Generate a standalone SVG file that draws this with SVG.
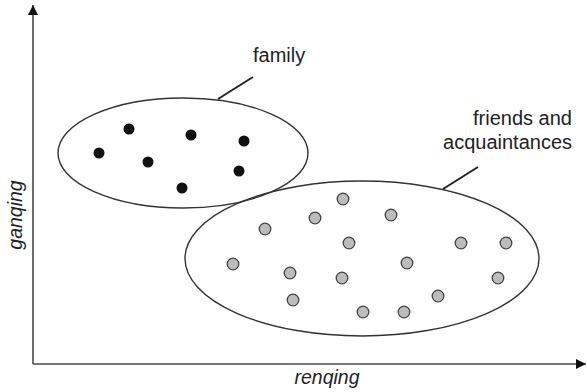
<svg xmlns="http://www.w3.org/2000/svg" width="587" height="392" viewBox="0 0 587 392">
  <style>
    .axis { stroke: #4a4a4a; stroke-width: 1.6; fill: none; }
    .set { stroke: #333; stroke-width: 1.4; fill: none; }
    .lead { stroke: #222; stroke-width: 2; fill: none; }
    .fam { fill: #111; }
    .fr { fill: #bcbcbc; stroke: #444; stroke-width: 1.3; }
    .lbl { font-family: "Liberation Sans", Arial, sans-serif; font-size: 20px; fill: #222; }
    .ax { font-family: "Liberation Sans", Arial, sans-serif; font-size: 19.5px; font-style: italic; fill: #222; }
  </style>
  <defs>
    <marker id="arrow" viewBox="0 0 10 10" refX="10" refY="5" markerWidth="10" markerHeight="10" markerUnits="userSpaceOnUse" orient="auto">
      <path d="M0,0 L10,5 L0,10 Z" fill="#111"/>
    </marker>
  </defs>

  <!-- axes -->
  <g id="axes">
    <path class="axis" d="M33,364 L33,5" marker-end="url(#arrow)"/>
    <path class="axis" d="M33,364 L586,364" marker-end="url(#arrow)"/>
    <text class="ax" x="327" y="384" text-anchor="middle">renqing</text>
    <text class="ax" transform="translate(22,215) rotate(-90)" text-anchor="middle">ganqing</text>
  </g>

  <!-- family set -->
  <g id="family">
    <ellipse class="set" cx="183" cy="153" rx="125" ry="55"/>
    <circle class="fam" cx="99" cy="153" r="5.5"/>
    <circle class="fam" cx="129" cy="129" r="5.5"/>
    <circle class="fam" cx="148" cy="162" r="5.5"/>
    <circle class="fam" cx="191" cy="135" r="5.5"/>
    <circle class="fam" cx="244" cy="141" r="5.5"/>
    <circle class="fam" cx="239" cy="171" r="5.5"/>
    <circle class="fam" cx="182" cy="188" r="5.5"/>
  </g>

  <!-- friends and acquaintances set -->
  <g id="friends">
    <ellipse class="set" cx="362" cy="258.5" rx="177" ry="77.5"/>
    <circle class="fr" cx="343" cy="199" r="5.8"/>
    <circle class="fr" cx="315" cy="218" r="5.8"/>
    <circle class="fr" cx="391" cy="215" r="5.8"/>
    <circle class="fr" cx="265" cy="229" r="5.8"/>
    <circle class="fr" cx="349" cy="243" r="5.8"/>
    <circle class="fr" cx="461" cy="243" r="5.8"/>
    <circle class="fr" cx="506" cy="243" r="5.8"/>
    <circle class="fr" cx="233" cy="264" r="5.8"/>
    <circle class="fr" cx="407" cy="263" r="5.8"/>
    <circle class="fr" cx="290" cy="273" r="5.8"/>
    <circle class="fr" cx="342" cy="278" r="5.8"/>
    <circle class="fr" cx="498" cy="278" r="5.8"/>
    <circle class="fr" cx="293" cy="300" r="5.8"/>
    <circle class="fr" cx="438" cy="296" r="5.8"/>
    <circle class="fr" cx="363" cy="312" r="5.8"/>
    <circle class="fr" cx="404" cy="312" r="5.8"/>
  </g>

  <!-- leader lines from the labels to the sets -->
  <g id="connectors">
    <line class="lead" x1="218" y1="99" x2="253" y2="77"/>
    <line class="lead" x1="443" y1="189" x2="478" y2="167"/>
  </g>
  <g id="labels">
    <text class="lbl" x="253" y="62">family</text>
    <text class="lbl" x="572" y="125" text-anchor="end">friends and</text>
    <text class="lbl" x="572" y="149" text-anchor="end">acquaintances</text>
  </g>
</svg>
